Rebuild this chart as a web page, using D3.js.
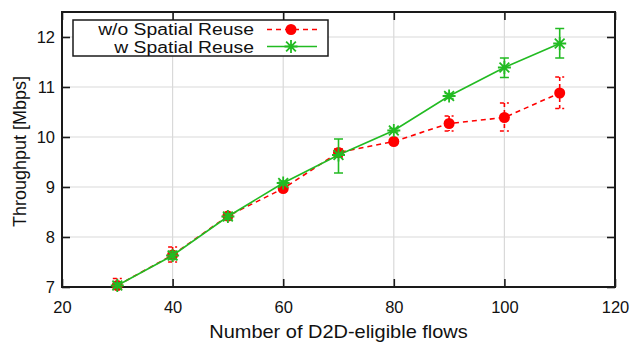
<!DOCTYPE html>
<html>
<head>
<meta charset="utf-8">
<script src="https://cdn.jsdelivr.net/npm/d3@7"></script>
<style>
  html, body { margin: 0; padding: 0; background: #fff; }
  svg { display: block; font-family: "Liberation Sans", Arial, sans-serif; }
</style>
</head>
<body>
<svg id="chart" width="633" height="343"></svg>
<script>
// Number of D2D-eligible flows
const flows = [30, 40, 50, 60, 70, 80, 90, 100, 110];

// Throughput without spatial reuse: mean, lower and upper error bounds
const noReuse    = [7.03, 7.64, 8.42, 8.97, 9.69, 9.91, 10.27, 10.39, 10.88];
const noReuseLo  = [6.98, 7.50, 8.36, 8.93, 9.60, 9.88, 10.12, 10.12, 10.57];
const noReuseHi  = [7.17, 7.80, 8.48, 9.01, 9.76, 9.94, 10.42, 10.68, 11.20];

// Throughput with spatial reuse: mean, lower and upper error bounds
const withReuse   = [7.03, 7.63, 8.41, 9.08, 9.64, 10.13, 10.82, 11.39, 11.87];
const withReuseLo = [6.99, 7.55, 8.35, 9.04, 9.28, 10.10, 10.77, 11.19, 11.58];
const withReuseHi = [7.08, 7.71, 8.47, 9.12, 9.96, 10.17, 10.87, 11.58, 12.17];

const xTicks = [20, 40, 60, 80, 100, 120];
const yTicks = [7, 8, 9, 10, 11, 12];
const seriesNames = ["w/o Spatial Reuse", "w Spatial Reuse"];

const svg = d3.select("#chart");
const m = { left: 62, right: 18, top: 12, bottom: 56 };
const W = 633, H = 343;

const x = d3.scaleLinear().domain([20, 120]).range([m.left, W - m.right]);
const y = d3.scaleLinear().domain([7, 12.5]).range([H - m.bottom, m.top]);

const axisColor = "#1a1a1a";
const red = "#ff0000";
const green = "#22bb22";

// grid
const grid = svg.append("g");
grid.selectAll(".gx").data(xTicks.slice(1, -1)).join("line")
  .attr("x1", d => x(d)).attr("x2", d => x(d))
  .attr("y1", y.range()[0]).attr("y2", y.range()[1])
  .attr("stroke", "#d9d9d9").attr("stroke-width", 1.2);
grid.selectAll(".gy").data(yTicks.slice(1)).join("line")
  .attr("x1", x.range()[0]).attr("x2", x.range()[1])
  .attr("y1", d => y(d)).attr("y2", d => y(d))
  .attr("stroke", "#d9d9d9").attr("stroke-width", 1.2);

// axes with inward ticks on all four sides
const tickLen = 8;
const fontSize = 16.5;
const bottomAxis = d3.axisBottom(x).tickValues(xTicks).tickSize(-tickLen).tickPadding(14).tickFormat(d3.format("d"));
const topAxis = d3.axisTop(x).tickValues(xTicks).tickSize(-tickLen).tickFormat("");
const leftAxis = d3.axisLeft(y).tickValues(yTicks).tickSize(-tickLen).tickPadding(7).tickFormat(d3.format("d"));
const rightAxis = d3.axisRight(y).tickValues(yTicks).tickSize(-tickLen).tickFormat("");

function styleAxis(g) {
  g.select(".domain").remove();
  g.selectAll(".tick line").attr("stroke", axisColor).attr("stroke-width", 1.6);
  g.selectAll(".tick text").attr("fill", "#111").style("font-size", fontSize + "px")
    .style("font-family", '"Liberation Sans", Arial, sans-serif');
}
svg.append("g").attr("transform", `translate(0,${y(7)})`).call(bottomAxis).call(styleAxis);
svg.append("g").attr("transform", `translate(0,${y(12.5)})`).call(topAxis).call(styleAxis);
svg.append("g").attr("transform", `translate(${x(20)},0)`).call(leftAxis).call(styleAxis);
svg.append("g").attr("transform", `translate(${x(120)},0)`).call(rightAxis).call(styleAxis);

// frame
svg.append("rect")
  .attr("x", x(20)).attr("y", y(12.5))
  .attr("width", x(120) - x(20)).attr("height", y(7) - y(12.5))
  .attr("fill", "none").attr("stroke", axisColor).attr("stroke-width", 2);

// axis titles
svg.append("text")
  .attr("transform", `translate(${(x(20) + x(120)) / 2 + 0},338) scale(1.11,1)`)
  .attr("text-anchor", "middle").style("font-size", "18px").attr("fill", "#111")
  .text("Number of D2D-eligible flows");
svg.append("text")
  .attr("transform", `translate(26,${(y(7) + y(12.5)) / 2 + 2}) rotate(-90)`)
  .attr("text-anchor", "middle").style("font-size", "18px").attr("fill", "#111")
  .text("Throughput [Mbps]");

const capW = 4.5;

function drawErrors(g, vals, lo, hi, color, dash) {
  flows.forEach((f, i) => {
    const cx = x(f);
    const path = `M${cx - capW},${y(hi[i])}H${cx + capW}M${cx},${y(hi[i])}V${y(lo[i])}M${cx - capW},${y(lo[i])}H${cx + capW}`;
    g.append("path").attr("d", path).attr("fill", "none")
      .attr("stroke", color).attr("stroke-width", 1.6)
      .attr("stroke-dasharray", dash || null);
  });
}

function asterisk(g, cx, cy, r, color) {
  const d = `M${cx - r},${cy}H${cx + r}M${cx},${cy - r}V${cy + r}` +
            `M${cx - r * 0.75},${cy - r * 0.75}L${cx + r * 0.75},${cy + r * 0.75}` +
            `M${cx - r * 0.75},${cy + r * 0.75}L${cx + r * 0.75},${cy - r * 0.75}`;
  g.append("path").attr("d", d).attr("stroke", color).attr("stroke-width", 1.8).attr("fill", "none");
}

const line = d3.line().x((d, i) => x(flows[i])).y(d => y(d));

// series: without spatial reuse (red, dashed, circles)
const gRed = svg.append("g");
drawErrors(gRed, noReuse, noReuseLo, noReuseHi, red, "4,3");
gRed.append("path").datum(noReuse).attr("d", line)
  .attr("fill", "none").attr("stroke", red).attr("stroke-width", 1.6)
  .attr("stroke-dasharray", "5,4");
gRed.selectAll("circle").data(noReuse).join("circle")
  .attr("cx", (d, i) => x(flows[i])).attr("cy", d => y(d)).attr("r", 5.5)
  .attr("fill", red);

// series: with spatial reuse (green, solid, asterisks)
const gGreen = svg.append("g");
drawErrors(gGreen, withReuse, withReuseLo, withReuseHi, green, null);
gGreen.append("path").datum(withReuse).attr("d", line)
  .attr("fill", "none").attr("stroke", green).attr("stroke-width", 1.6);
withReuse.forEach((v, i) => asterisk(gGreen, x(flows[i]), y(v), 6.5, green));

// legend
const lg = svg.append("g");
lg.append("rect").attr("x", 73).attr("y", 20).attr("width", 255).attr("height", 36)
  .attr("fill", "#fff").attr("stroke", axisColor).attr("stroke-width", 1.5);
const rows = [29.5, 46.5];
const baselines = [34.8, 52.8];
seriesNames.forEach((name, i) => {
  lg.append("text")
    .attr("transform", `translate(254,${baselines[i]}) scale(1.24,1)`)
    .attr("text-anchor", "end").style("font-size", "15.6px").attr("fill", "#111")
    .text(name);
});
lg.append("line").attr("x1", 267).attr("x2", 317).attr("y1", rows[0]).attr("y2", rows[0])
  .attr("stroke", red).attr("stroke-width", 1.6).attr("stroke-dasharray", "5,4");
lg.append("circle").attr("cx", 291).attr("cy", rows[0]).attr("r", 5.5).attr("fill", red);
lg.append("line").attr("x1", 267).attr("x2", 317).attr("y1", rows[1]).attr("y2", rows[1])
  .attr("stroke", green).attr("stroke-width", 1.6);
asterisk(lg, 291, rows[1], 6.5, green);
</script>
</body>
</html>
